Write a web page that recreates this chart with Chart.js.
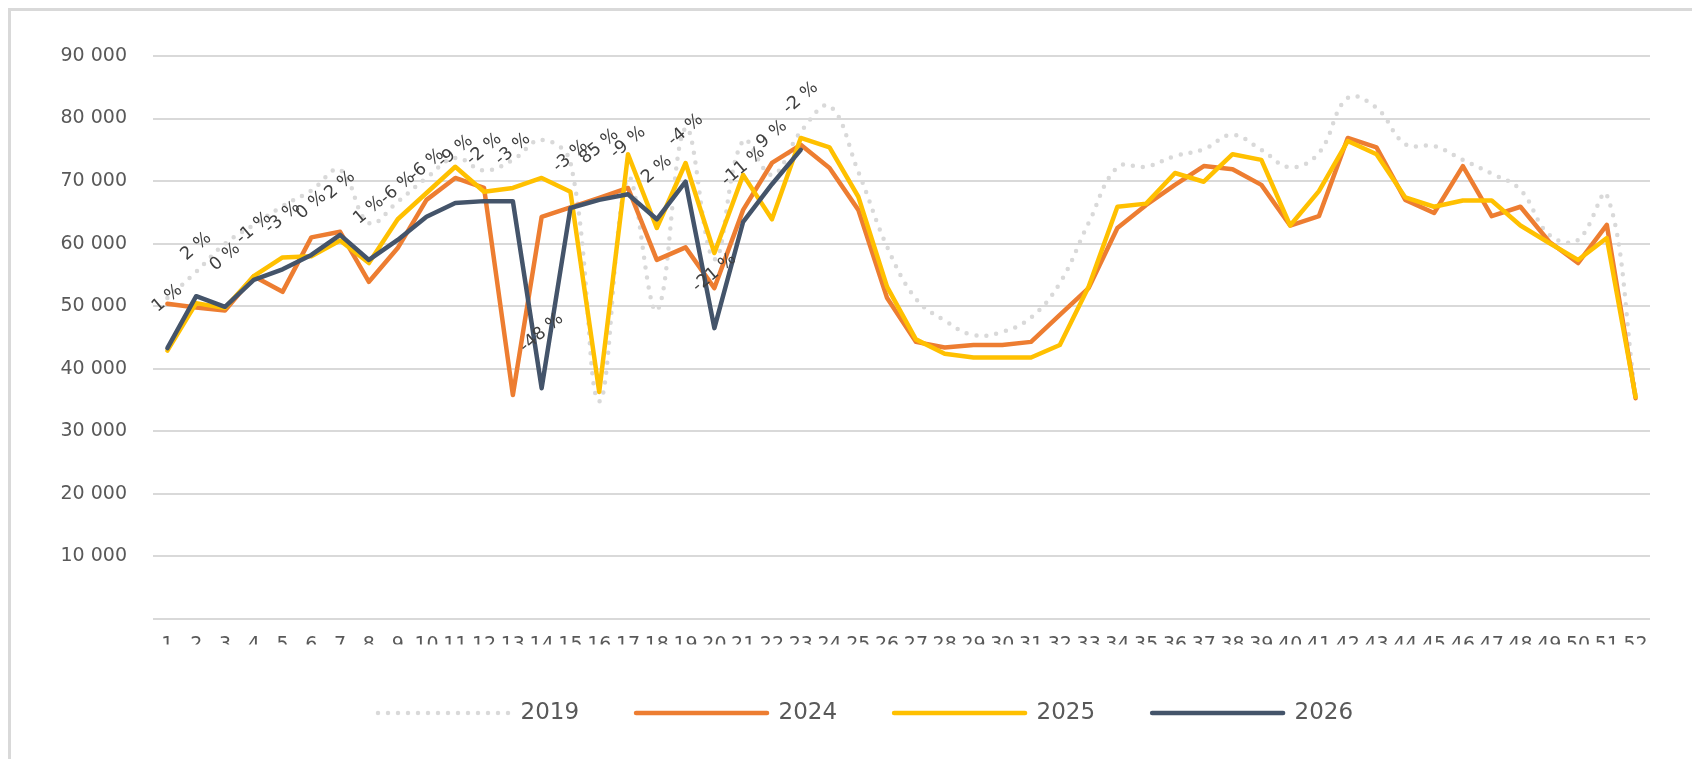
<!DOCTYPE html>
<html>
<head>
<meta charset="utf-8">
<script src="https://cdn.jsdelivr.net/npm/chart.js@4/dist/chart.umd.min.js"></script>
<style>
  html, body { margin: 0; padding: 0; background: #ffffff; overflow: hidden; }
  #wrap { position: relative; width: 1692px; height: 759px; }
  #frame { position: absolute; left: 8px; top: 8px; width: 1700px; height: 800px;
           border-top: 3px solid #d9d9d9; border-left: 3px solid #d9d9d9; pointer-events: none; }
  canvas { display: block; }
</style>
</head>
<body>
<div id="wrap">
  <canvas id="c" width="1692" height="759"></canvas>
  <div id="frame"></div>
</div>
<script>
// ---- Data ----
const weeks = ['1','2','3','4','5','6','7','8','9','10','11','12','13','14','15','16','17','18','19','20',
  '21','22','23','24','25','26','27','28','29','30','31','32','33','34','35','36','37','38','39','40',
  '41','42','43','44','45','46','47','48','49','50','51','52'];

const s2019 = [51300, 55500, 60000, 63000, 66000, 68500, 71800, 63300, 66700, 70500,
  73700, 71700, 73400, 76600, 73000, 34800, 70500, 49300, 78500, 57500,
  76500, 71000, 77900, 82000, 71500, 59500, 51200, 47700, 45400, 45900,
  48200, 53700, 63300, 72200, 72300, 74000, 75100, 77400, 75000, 72200,
  74500, 83300, 81700, 75900, 75600, 73400, 71200, 68600, 61400, 60600,
  67800, 35800];

const s2024 = [50400, 49800, 49300, 54800, 52300, 61000, 61900, 53900, 59300, 67000,
  70500, 68900, 35800, 64300, 65800, 67300, 68900, 57400, 59400, 52900,
  65400, 72900, 75800, 72100, 65400, 51300, 44300, 43400, 43800, 43800,
  44300, 48600, 52900, 62500, 66200, 69400, 72400, 71900, 69400, 62900,
  64400, 76900, 75400, 67000, 64900, 72400, 64400, 65900, 60300, 56900,
  63000, 35300];

const s2025 = [42900, 50500, 49700, 54800, 57800, 58000, 60500, 56900, 63900, 68100,
  72300, 68300, 68900, 70500, 68300, 36300, 74300, 62500, 72900, 58500,
  71000, 63900, 76900, 75400, 67500, 53100, 44700, 42400, 41800, 41800,
  41800, 43800, 53100, 65900, 66400, 71300, 69900, 74300, 73400, 62900,
  68400, 76400, 74300, 67400, 65900, 66900, 66900, 62900, 60100, 57400,
  60900, 35500];

const s2026 = [43300, 51600, 49900, 54200, 55900, 58200, 61400, 57400, 60600, 64300,
  66500, 66800, 66800, 36900, 65700, 67000, 67900, 63900, 69900, 46500,
  63500, 69500, 75000];

const pctLabels = ['1\u00a0%', '2\u00a0%', '0\u00a0%', '-1\u00a0%', '-3\u00a0%', '0\u00a0%', '2\u00a0%',
  '1\u00a0%', '-6\u00a0%', '-6\u00a0%', '-9\u00a0%', '-2\u00a0%', '-3\u00a0%', '-48\u00a0%', '-3\u00a0%',
  '85\u00a0%', '-9\u00a0%', '2\u00a0%', '-4\u00a0%', '-21\u00a0%', '-11\u00a0%', '9\u00a0%', '-2\u00a0%'];

const seriesNames = ['2019', '2024', '2025', '2026'];
const yTicks = [0, 10000, 20000, 30000, 40000, 50000, 60000, 70000, 80000, 90000];

// ---- Rendering ----
const FONT = '"DejaVu Sans", "Liberation Sans", sans-serif';
const LEGEND_START = 378;

function fmt(v) {
  return String(v).replace(/\B(?=(\d{3})+(?!\d))/g, ' ');
}

const pctLabelPlugin = {
  id: 'pctLabels',
  afterDatasetsDraw(chart) {
    const meta = chart.getDatasetMeta(3);
    const ctx = chart.ctx;
    const ang = 40 * Math.PI / 180;
    ctx.save();
    ctx.font = '17.5px ' + FONT;
    ctx.fillStyle = '#404040';
    ctx.textAlign = 'center';
    ctx.textBaseline = 'middle';
    pctLabels.forEach((t, i) => {
      const p = meta.data[i];
      if (!p || s2026[i] == null) return;
      const w = ctx.measureText(t).width;
      const d = 39 + w * Math.sin(ang) / 2;
      ctx.save();
      ctx.translate(p.x, p.y - d);
      ctx.rotate(-ang);
      ctx.fillText(t, 0, 0);
      ctx.restore();
    });
    ctx.restore();
  }
};

// shift the centred legend row so that it starts where the reference's does
const legendShiftPlugin = {
  id: 'legendShift',
  afterLayout(chart) {
    const lg = chart.legend;
    if (!lg || !lg.lineWidths) return;
    const pad = lg.options.labels.padding;
    const start = (lg.left + pad + lg.right - lg.lineWidths[0]) / 2;
    const dx = LEGEND_START - start;
    lg.left += dx;
    lg.right += dx;
  }
};

const common = { pointRadius: 0, pointHoverRadius: 0, borderJoinStyle: 'round', fill: false, spanGaps: false };

new Chart(document.getElementById('c'), {
  type: 'line',
  data: {
    labels: weeks,
    datasets: [
      Object.assign({}, common, { label: seriesNames[0], data: s2019, borderColor: '#d9d9d9', backgroundColor: '#d9d9d9',
        borderWidth: 4.5, borderDash: [0, 10], borderCapStyle: 'round', tension: 0.4, order: 4 }),
      Object.assign({}, common, { label: seriesNames[1], data: s2024, borderColor: '#ED7D31', backgroundColor: '#ED7D31',
        borderWidth: 4.5, borderCapStyle: 'round', tension: 0, order: 3 }),
      Object.assign({}, common, { label: seriesNames[2], data: s2025, borderColor: '#FFC000', backgroundColor: '#FFC000',
        borderWidth: 4.5, borderCapStyle: 'round', tension: 0, order: 2 }),
      Object.assign({}, common, { label: seriesNames[3], data: s2026, borderColor: '#44546A', backgroundColor: '#44546A',
        borderWidth: 4.5, borderCapStyle: 'round', tension: 0, order: 1 })
    ]
  },
  options: {
    responsive: false,
    animation: false,
    events: [],
    layout: { padding: { left: 0, right: 42, top: 56, bottom: 24.5 } },
    plugins: {
      tooltip: { enabled: false },
      legend: {
        position: 'bottom',
        align: 'center',
        labels: {
          usePointStyle: true,
          pointStyle: 'line',
          pointStyleWidth: 131,
          padding: 57,
          color: '#595959',
          font: { family: FONT, size: 23 },
          sort: (a, b) => a.datasetIndex - b.datasetIndex,
          generateLabels(chart) {
            const items = Chart.defaults.plugins.legend.labels.generateLabels(chart);
            items.forEach(it => {
              const ds = chart.data.datasets[it.datasetIndex];
              it.lineDash = ds.borderDash || [];
              it.lineCap = ds.borderCapStyle || 'butt';
              it.lineWidth = 4.5;
              it.strokeStyle = ds.borderColor;
              it.pointStyle = 'line';
            });
            return items;
          }
        }
      }
    },
    scales: {
      x: {
        type: 'category',
        offset: true,
        grid: { display: false, drawTicks: false },
        border: { display: false },
        ticks: { autoSkip: false, maxRotation: 0, minRotation: 0, padding: 14.5,
                 color: '#595959', font: { family: FONT, size: 19 } },
        afterFit(scale) { scale.height = 25.5; }
      },
      y: {
        min: 0, max: 90000,
        afterBuildTicks(scale) { scale.ticks = yTicks.map(v => ({ value: v })); },
        grid: { color: '#d9d9d9', lineWidth: 2, drawTicks: false },
        border: { display: false },
        ticks: { padding: 26, color: '#595959', font: { family: FONT, size: 19 },
                 callback: (v) => v === 0 ? '' : fmt(v) },
        afterFit(scale) { scale.width = 153; }
      }
    }
  },
  plugins: [pctLabelPlugin, legendShiftPlugin]
});
</script>
</body>
</html>
